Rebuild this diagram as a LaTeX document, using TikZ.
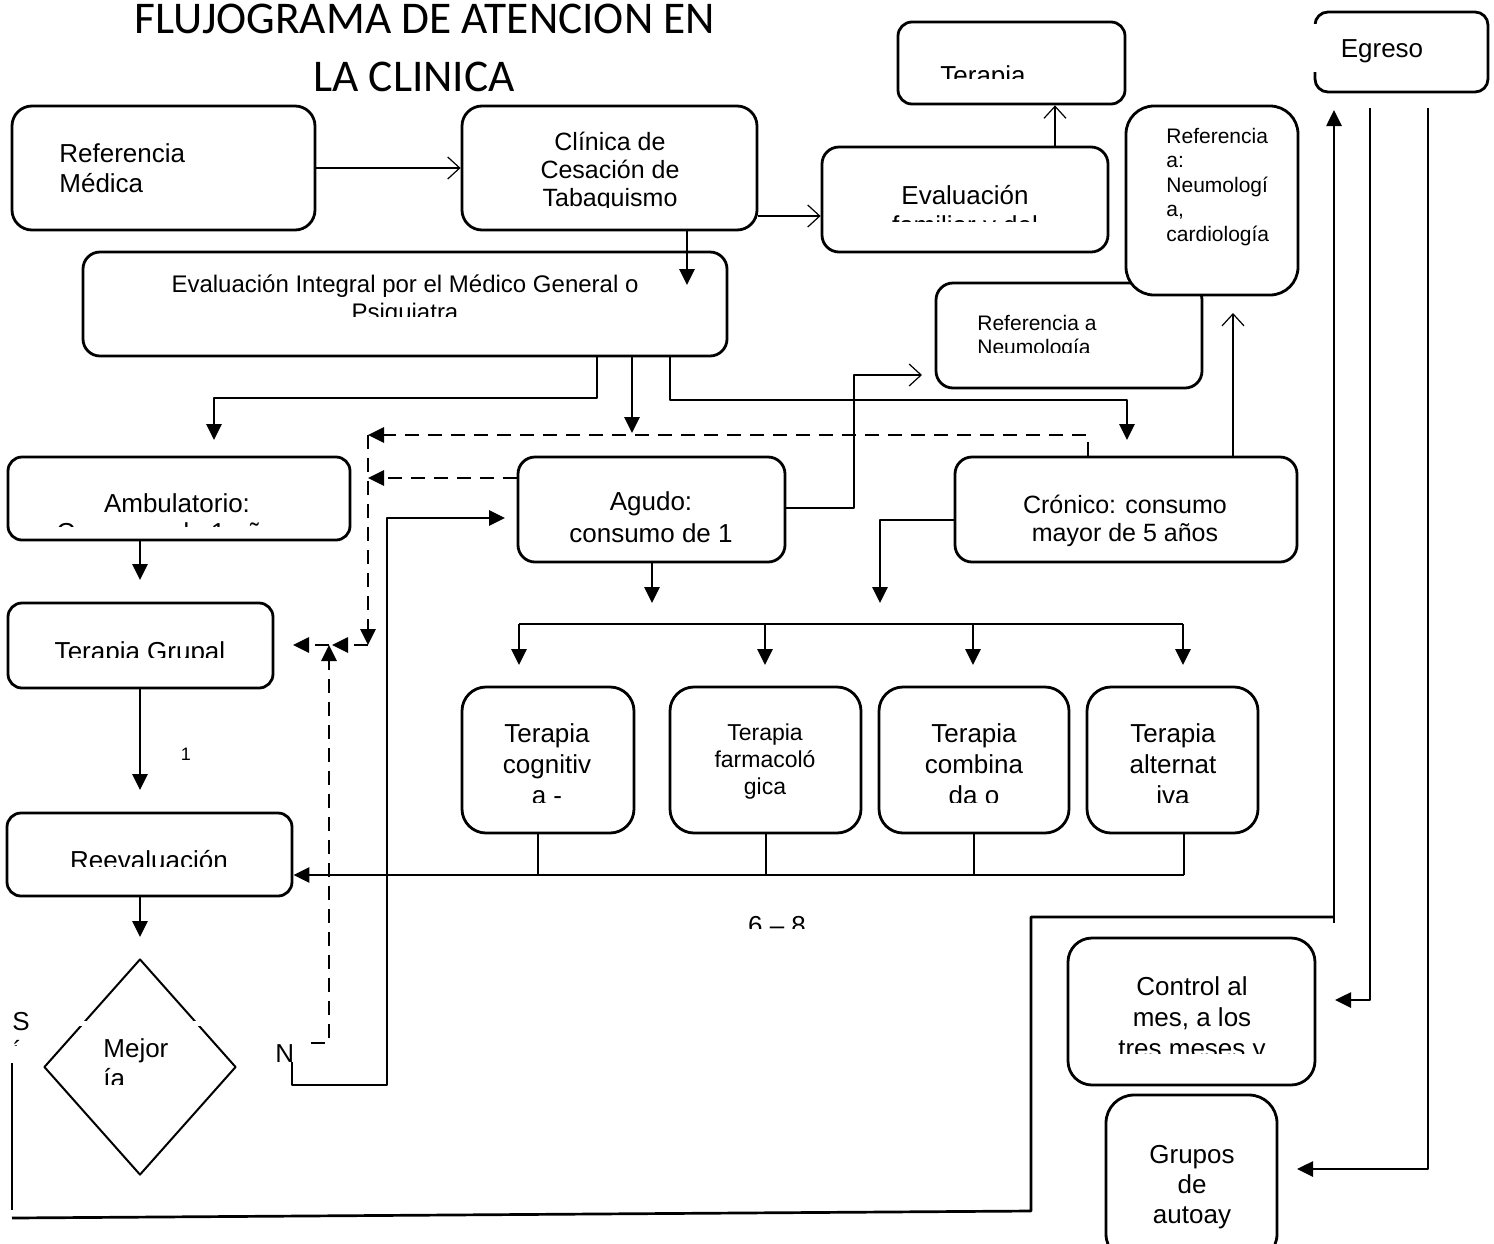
\documentclass[tikz,border=0pt]{standalone}
\usepackage{fontspec}
\setmainfont{Liberation Sans}
\newfontfamily\titulofont{Carlito}
\usetikzlibrary{arrows.meta,fit,shapes.geometric}

% caja redondeada: nombre, x1, y1, x2, y2, radio
\newcommand\caja[6]{\node[caja,rounded corners=#6,fit={(#2,#3)(#4,#5)}] (#1) {};}
% texto cortado por abajo (como en el original)
\newcommand\cortado[2]{\begin{scope}\clip (0,0) rectangle (1494,#1);#2\end{scope}}

\begin{document}
\begin{tikzpicture}[line join=round,
  caja/.style={draw,line width=1.4pt,fill=white,inner sep=0pt},
  txt/.style={inner sep=0pt,anchor=base,align=center,font=\fontsize{13}{15}\selectfont},
  txtizq/.style={txt,anchor=base west,align=left},
  titulo/.style={inner sep=0pt,anchor=base,font=\titulofont\fontsize{22.7}{27}\selectfont},
  gruesa/.style={line width=1.35pt},
  flecha/.style={gruesa,-{Triangle[length=8pt,width=7.5pt]}},
  fina/.style={line width=.6pt,-{Straight Barb[length=6pt,width=11pt]}},
  trazos/.style={flecha,dash pattern=on 7pt off 4.5pt}]
\begin{scope}[x=.5pt,y=-.5pt]
  \path[use as bounding box] (0,0) rectangle (1494,1243);
  \clip (0,0) rectangle (1494,1243);
  % cajas
  \caja{refmed}{12}{106}{315}{230}{10pt}
  \caja{clinica}{462}{106}{757}{230}{10pt}
  \caja{terfam}{898}{22}{1125}{104}{7pt}
  \caja{evalfam}{822}{147}{1108}{252}{8.5pt}
  \caja{egreso}{1315}{12}{1488}{92}{6.5pt}
  \fill[white] (1309,24) rectangle (1321,72);
  \caja{refneu}{936}{283}{1202}{388}{8.5pt}
  \caja{refcar}{1126}{106}{1298}{295}{14pt}
  \caja{evalint}{83}{252}{727}{356}{8.5pt}
  \caja{ambul}{8}{457}{350}{540}{7pt}
  \caja{agudo}{518}{457}{785}{562}{8.5pt}
  \caja{cronico}{955}{457}{1297}{562}{8.5pt}
  \caja{tgrupal}{8}{603}{273}{688}{7pt}
  \caja{reeval}{7}{813}{292}{896}{7pt}
  \caja{tA}{462}{687}{634}{833}{12pt}
  \caja{tB}{670}{687}{861}{833}{12pt}
  \caja{tC}{879}{687}{1069}{833}{12pt}
  \caja{tD}{1087}{687}{1258}{833}{12pt}
  \caja{control}{1068}{938}{1315}{1085}{12pt}
  \caja{grupos}{1106}{1095}{1277}{1262}{14pt}
  \node[draw,diamond,line width=1pt,fill=white,inner sep=0pt,
    minimum width=96pt,minimum height=108pt] (mejoria) at (140,1067) {};
  \fill[white] (78,1021) rectangle (202,1026);

  % conectores de arriba
  \draw[fina] (refmed) -- (clinica);
  \coordinate (k1) at (687,285);
  \draw[flecha] (k1 |- clinica.south) -- (k1);
  \coordinate (k2) at (0,216);
  \draw[fina] (clinica.east |- k2) -- (evalfam.west |- k2);
  \coordinate (k3) at (1055,0);
  \draw[fina] (k3 |- evalfam.north) -- (k3 |- terfam.south);
  % tres ramas de la evaluacion integral
  \coordinate (k4) at (597,398); \coordinate (k4f) at (214,440);
  \draw[flecha] (k4 |- evalint.south) -- (k4) -| (k4f);
  \coordinate (k5) at (632,433);
  \draw[flecha] (k5 |- evalint.south) -- (k5);
  \coordinate (k6) at (670,400); \coordinate (k6f) at (1127,440);
  \draw[flecha] (k6 |- evalint.south) -- (k6) -| (k6f);
  % retornos punteados
  \coordinate (r1) at (1088,435); \coordinate (r2) at (368,435);
  \draw[trazos] (r1 |- cronico.north) -- (r1) -- (r2);
  \coordinate (r3) at (368,478);
  \draw[trazos] (agudo.west |- r3) -- (r3);
  \coordinate (r4) at (368,645); \coordinate (r5) at (332,645);
  \draw[trazos] (r2) -- (r4);
  \draw[trazos] (r4) -- (r5);
  \coordinate (r6) at (329,645); \coordinate (r7) at (293,645);
  \draw[trazos] (r6) -- (r7);
  \coordinate (r8) at (329,1043); \coordinate (r9) at (311,1043);
  \draw[trazos] (r9) -- (r8) -- (r6);
  % No -> Agudo
  \node[txtizq] (tno) at (275,1062) {N};
  \coordinate (n1) at (292,1085); \coordinate (n2) at (387,518);
  \coordinate (n3) at (505,518);
  \draw[flecha] (n1 |- tno.south) -- (n1) -| (n2) -- (n3);
  % Agudo -> Neumologia, Cronico -> cardiologia
  \coordinate (a1) at (854,508); \coordinate (a2) at (922,375);
  \draw[fina] (agudo.east |- a1) -- (a1) |- (a2);
  \coordinate (c1) at (1233,313);
  \draw[fina] (c1 |- cronico.north) -- (c1);
  % hacia las terapias
  \coordinate (g1) at (652,603);
  \draw[flecha] (g1 |- agudo.south) -- (g1);
  \coordinate (g2) at (880,520); \coordinate (g3) at (880,603);
  \draw[flecha] (cronico.west |- g2) -- (g2) -- (g3);
  \coordinate (b1) at (519,624); \coordinate (b2) at (1183,624);
  \draw[gruesa] (b1) -- (b2);
  \foreach \x in {519,765,973,1183}
    \draw[flecha] (\x,624) -- (\x,665);
  % de las terapias a la reevaluacion
  \coordinate (v1) at (1184,875);
  \foreach \x in {538,766,974,1184}
    \draw[gruesa] (\x,833) -- (\x,875);
  \draw[flecha] (v1) -- (reeval.east |- v1);
  % columna izquierda
  \coordinate (l1) at (140,580); \coordinate (l2) at (140,790);
  \coordinate (l3) at (140,937);
  \draw[flecha] (l1 |- ambul.south) -- (l1);
  \draw[flecha] (l2 |- tgrupal.south) -- (l2);
  \draw[flecha] (l3 |- reeval.south) -- (l3);
  % Si -> Egreso
  \coordinate (s1) at (12,1063); \coordinate (s2) at (12,1210);
  \coordinate (s3) at (12,1218); \coordinate (s4) at (1031,1211);
  \coordinate (s5) at (1031,917); \coordinate (s6) at (1334,917);
  \coordinate (s7) at (1334,923); \coordinate (s8) at (1334,110);
  \draw[gruesa] (s1) -- (s2);
  \draw[gruesa] (s3) -- (s4) -- (s5) -- (s6);
  \draw[flecha] (s7) -- (s8);
  % Egreso -> control y grupos
  \coordinate (e1) at (1370,108); \coordinate (e2) at (1370,1000);
  \coordinate (e3) at (1335,1000);
  \draw[flecha] (e1) -- (e2) -- (e3);
  \coordinate (e4) at (1428,108); \coordinate (e5) at (1428,1169);
  \coordinate (e6) at (1297,1169);
  \draw[flecha] (e4) -- (e5) -- (e6);

  % textos (la posicion es la linea de base de la ultima linea)
  \node[titulo] (tit1) at (425,33) {FLUJOGRAMA DE ATENCION EN};
  \node[titulo] (tit2) at (414,91) {LA CLINICA};
  \node[txtizq] (trefmed) at (59,192) {Referencia\\Médica};
  \cortado{207}{\node[txt,font=\fontsize{12.5}{14}\selectfont] (tclin) at (610,206) {Clínica de\\Cesación de\\Tabaquismo};}
  \cortado{78}{\node[txt] (tterfam) at (983,84) {Terapia};}
  \cortado{221}{\node[txt] (tevalfam) at (965,234) {Evaluación\\familiar y del};}
  \node[txt] (tegreso) at (1382,57) {Egreso};
  \node[txtizq,font=\fontsize{10.5}{12.25}\selectfont] (trefcar) at (1166,241) {Referencia\\a:\\Neumologí\\a,\\cardiología};
  \cortado{352}{\node[txtizq,font=\fontsize{10.5}{12.25}\selectfont] (trefneu) at (977,354.5) {Referencia a\\Neumología};}
  \cortado{316}{\node[txt,font=\fontsize{12}{14}\selectfont] (tevalint) at (405,320) {Evaluación Integral por el Médico General o\\Psiquiatra};}
  \cortado{526}{\node[txt,font=\fontsize{13}{14.5}\selectfont] (tambul) at (177,541) {Ambulatorio:\\Consumo de 1 año a};}
  \node[txt,font=\fontsize{13}{16}\selectfont] (tagudo) at (651,542) {Agudo:\\consumo de 1};
  \node[txt,font=\fontsize{12.5}{14}\selectfont] (tcron) at (1125,541) {Crónico: consumo\\mayor de 5 años};
  \cortado{657}{\node[txt] (ttgrup) at (140,660) {Terapia Grupal};}
  \cortado{866}{\node[txt] (treeval) at (149,869) {Reevaluación};}
  \node[txt,font=\fontsize{9}{10}\selectfont] (tuno) at (186,760) {1};
  \cortado{802}{\node[txt,font=\fontsize{13}{15.5}\selectfont] (ttA) at (547,804) {Terapia\\cognitiv\\a -};}
  \node[txt,font=\fontsize{11.5}{13.5}\selectfont] (ttB) at (765,794) {Terapia\\farmacoló\\gica};
  \cortado{802}{\node[txt,font=\fontsize{13}{15.5}\selectfont] (ttC) at (974,804) {Terapia\\combina\\da o};}
  \cortado{802}{\node[txt,font=\fontsize{13}{15.5}\selectfont] (ttD) at (1173,804) {Terapia\\alternat\\iva};}
  \cortado{928}{\node[txt] (tsemanas) at (777,934) {6 – 8};}
  \cortado{1053}{\node[txt,font=\fontsize{13}{15.5}\selectfont] (tcontrol) at (1192,1057) {Control al\\mes, a los\\tres meses y};}
  \node[txt] (tgrupos) at (1192,1223) {Grupos\\de\\autoay};
  \cortado{1084}{\node[txtizq] (tmejor) at (103,1087) {Mejor\\ía};}
  \cortado{1045}{\node[txtizq,font=\fontsize{13}{14.5}\selectfont] (tsi) at (12,1059) {S\\í};}
\end{scope}
\end{tikzpicture}
\end{document}
